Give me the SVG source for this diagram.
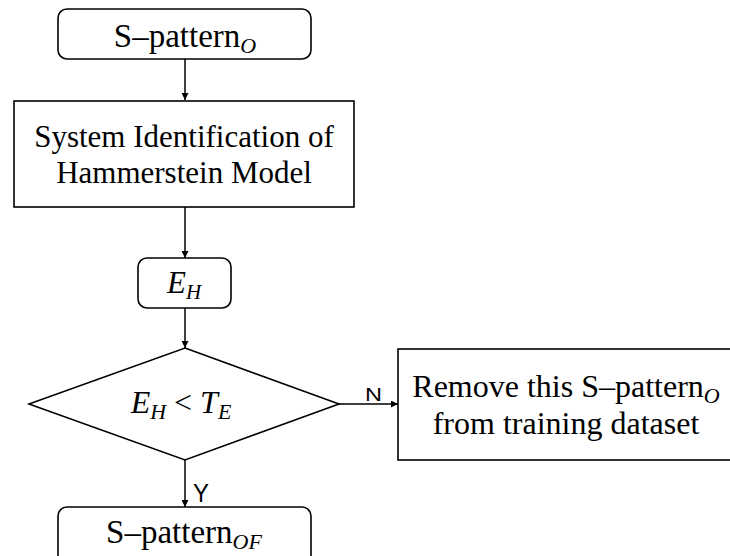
<svg xmlns="http://www.w3.org/2000/svg" width="730" height="556" viewBox="0 0 730 556">
<style>
.box{fill:#fff;stroke:#000;stroke-width:1.6}
.t{font-family:"Liberation Serif","Times New Roman",serif;font-size:31px;fill:#000;text-anchor:middle}
.sp{font-size:33px}
.rm{font-size:32px}
.m{font-family:"Liberation Serif","Times New Roman",serif;font-style:italic;fill:#000}
.sub{font-size:22px;font-style:italic}
.lbl{font-family:"Liberation Sans",Arial,sans-serif;fill:#000}
.c{fill:none;stroke:#000;stroke-width:1.5}
</style>
<defs>
<marker id="ah" viewBox="0 0 10 10" refX="10" refY="5" markerWidth="7" markerHeight="7" markerUnits="userSpaceOnUse" orient="auto">
<path d="M0,0 L10,5 L0,10 z" fill="#000"/>
</marker>
</defs>
<g id="connectors">
<line class="c" x1="185" y1="59" x2="185" y2="100" marker-end="url(#ah)"/>
<line class="c" x1="185" y1="207" x2="185" y2="258" marker-end="url(#ah)"/>
<line class="c" x1="185" y1="308" x2="185" y2="348" marker-end="url(#ah)"/>
<line class="c" x1="339" y1="404" x2="398" y2="404" marker-end="url(#ah)"/>
<line class="c" x1="185" y1="460" x2="185" y2="507" marker-end="url(#ah)"/>
<text class="lbl" x="365" y="401" font-size="18" textLength="17" lengthAdjust="spacingAndGlyphs">N</text>
<text class="lbl" x="193" y="502" font-size="25" textLength="16" lengthAdjust="spacingAndGlyphs">Y</text>
</g>
<g id="start">
<rect class="box" x="58" y="9" width="253" height="50" rx="9"/>
<text class="t sp" x="185" y="47">S–pattern<tspan class="sub" dy="6">O</tspan></text>
</g>
<g id="sysid">
<rect class="box" x="14" y="101" width="340" height="106"/>
<text class="t" x="184" y="147">System Identification of</text>
<text class="t" x="184" y="183">Hammerstein Model</text>
</g>
<g id="eh">
<rect class="box" x="138" y="258" width="93" height="50" rx="9"/>
<text class="m" x="184" y="293" font-size="31" text-anchor="middle">E<tspan font-size="21" dy="6">H</tspan></text>
</g>
<g id="decision">
<polygon class="box" points="185,348 339,404 185,460 29,404"/>
<text class="m" x="181" y="413" font-size="32" text-anchor="middle">E<tspan font-size="22" dy="6">H</tspan><tspan dy="-6" font-style="normal"> &lt; </tspan>T<tspan font-size="22" dy="6">E</tspan></text>
</g>
<g id="remove">
<rect class="box" x="398" y="349" width="340" height="111"/>
<text class="t rm" x="566" y="397">Remove this S–pattern<tspan class="sub" dy="6">O</tspan></text>
<text class="t rm" x="566" y="434">from training dataset</text>
</g>
<g id="end">
<rect class="box" x="58" y="507" width="253" height="60" rx="9"/>
<text class="t sp" x="184" y="543">S–pattern<tspan class="sub" dy="6">OF</tspan></text>
</g>
</svg>
